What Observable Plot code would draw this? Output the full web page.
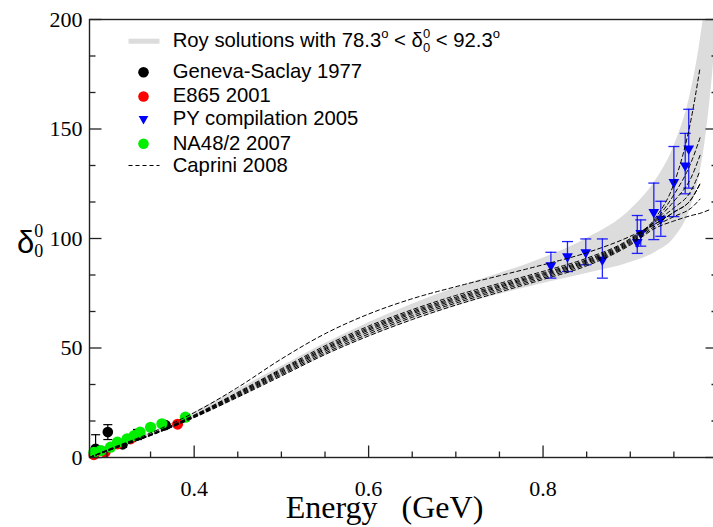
<!DOCTYPE html>
<html><head><meta charset="utf-8">
<script src="https://cdn.jsdelivr.net/npm/d3@7"></script>
<script src="https://cdn.jsdelivr.net/npm/@observablehq/plot@0.6"></script>
<style>
body{margin:0;overflow:hidden;background:#fff}
#chart{position:relative;width:713px;height:527px;overflow:hidden}
</style>
</head><body><div id="chart"></div>
<script>
// ---- axis ticks ----
const energyTicks = [0.4, 0.6, 0.8];
const energyMinor = [0.30, 0.35, 0.45, 0.50, 0.55, 0.65, 0.70, 0.75, 0.85, 0.90, 0.95];
const deltaTicks = [0, 50, 100, 150, 200];
const deltaMinor = [16.67, 33.33, 66.67, 83.33, 116.67, 133.33, 166.67, 183.33];

// ---- Roy solutions band ----
const bandE    = [0.28, 0.30, 0.35, 0.40, 0.45, 0.50, 0.55, 0.60, 0.65, 0.70, 0.75, 0.80, 0.85, 0.90, 0.93, 0.95, 0.97, 0.98, 0.985, 0.99, 0.995, 1.0];
const bandLow  = [0, 2.6, 9.6, 17.8, 27, 37, 46.5, 55, 62.5, 69, 74.5, 79.5, 84, 89, 94, 100, 115, 130, 142, 158, 178, 205];
const bandHigh = [0.5, 3.8, 11.4, 20.6, 31, 41.5, 52, 61.5, 70, 77.5, 84, 91, 100, 113, 127, 142, 168, 190, 205, 230, 260, 300];

// ---- Caprini 2008 curves ----
const capE = [0.28, 0.30, 0.35, 0.40, 0.45, 0.50, 0.55, 0.60, 0.65, 0.70, 0.75, 0.80, 0.85, 0.90, 0.93, 0.95, 0.97, 0.98, 0.99];
const cap1 = [0, 3.4, 11.2, 20.5, 32, 45, 56.5, 65.5, 72.5, 78, 83, 88, 93.5, 101, 107, 112, 118, 125, null];
const cap2 = [0, 3.2, 10.6, 19.4, 29.8, 40.5, 51, 60, 67.5, 74, 79.5, 85, 91, 100, 110, 125, 155, 178, null];
const cap3 = [0, 3.2, 10.5, 19.2, 29.4, 40, 50.3, 59.3, 66.8, 73.2, 78.8, 84.3, 90.3, 99.5, 109, 120, 135, 146, null];
const cap4 = [0, 3.1, 10.4, 19, 29, 39.5, 49.7, 58.7, 66.2, 72.6, 78.2, 83.8, 89.8, 99, 108.5, 117, 128, 138, null];
const cap5 = [0, 3.1, 10.3, 18.8, 28.7, 39, 49.2, 58.1, 65.6, 72, 77.7, 83.3, 89.3, 98.5, 108, 114, 122, 131, null];
const cap6 = [0, 3.0, 10.2, 18.6, 28.3, 38.4, 48.5, 57.3, 64.8, 71.3, 77, 82.7, 88.8, 98, 107, 112, 118, 125, null];
const cap7 = [0, 3.0, 10.1, 18.4, 27.9, 37.8, 47.7, 56.4, 64, 70.5, 76.3, 82, 88.2, 97.5, 106, 110, 114, 118, null];
const cap8 = [0, 2.9, 10, 18.2, 27.5, 37.2, 47, 55.5, 63, 69.6, 75.5, 81.3, 87.5, 97, 105, 108, 110.5, 111.5, 113];

// ---- PY compilation 2005 ----
const pyE  = [0.809, 0.828, 0.849, 0.868, 0.908, 0.912, 0.927, 0.935, 0.950, 0.963, 0.967];
const pyV  = [87.7, 91.8, 93.7, 90.3, 98.3, 102.5, 112, 109, 125.7, 133.3, 141];
const pyLo = [81.9, 84.9, 88, 81.9, 93.2, 96.5, 99.5, 101, 110, 120.4, 123];
const pyHi = [93.7, 98.6, 99.8, 99.8, 110.5, 108.5, 125.3, 117, 142, 148, 159];

// ---- Geneva-Saclay 1977 ----
const gsE  = [0.287, 0.301, 0.318, 0.335, 0.367];
const gsV  = [4, 11.6, 6, 10.5, 14.8];
const gsLo = [0, 8.2, 4.6, 8.2, 13.5];
const gsHi = [10.4, 15, 7.5, 12.8, 16];

// ---- E865 2001 ----
const e865E = [0.285, 0.298, 0.312, 0.327, 0.381];
const e865V = [1.3, 2.5, 6.2, 8.5, 15.2];

// ---- NA48/2 2007 ----
const naE = [0.285, 0.293, 0.304, 0.312, 0.323, 0.331, 0.338, 0.350, 0.363, 0.390];
const naV = [2.4, 3.2, 4.7, 7.0, 8.5, 10.0, 11.6, 13.8, 15.4, 18.4];

// ---- legend labels ----
const legendLabels = ["Geneva-Saclay 1977", "E865 2001", "PY compilation 2005", "NA48/2 2007", "Caprini 2008"];

// ---- tables ----
const band = bandE.map((e, i) => ({e, lo: bandLow[i], hi: bandHigh[i]}));
const capCurves = [cap1, cap2, cap3, cap4, cap5, cap6, cap7, cap8];
const capRows = capCurves.flatMap((arr, k) => capE.map((e, i) => ({e, v: arr[i], k})));
const py = pyE.map((e, i) => ({e, v: pyV[i], lo: pyLo[i], hi: pyHi[i]}));
const gs = gsE.map((e, i) => ({e, v: gsV[i], lo: gsLo[i], hi: gsHi[i]}));
const e865 = e865E.map((e, i) => ({e, v: e865V[i]}));
const na = naE.map((e, i) => ({e, v: naV[i]}));

const hline = {draw(ctx, size) { const r = Math.sqrt(size / Math.PI); ctx.moveTo(-r, 0); ctx.lineTo(r, 0); }};
const vline = {draw(ctx, size) { const r = Math.sqrt(size / Math.PI); ctx.moveTo(0, -r); ctx.lineTo(0, r); }};
const serif = "'Liberation Serif', 'Times New Roman', serif";
const sans = "'Liberation Sans', Arial, sans-serif";
const tickStyle = {stroke: "#222", strokeWidth: 1.3};

const plot = Plot.plot({
  width: 713, height: 527,
  marginLeft: 89, marginRight: -4, marginTop: 19, marginBottom: 70,
  x: {domain: [0.28, 1.0]},
  y: {domain: [0, 200]},
  style: {fontFamily: serif, background: "white", color: "black"},
  marks: [
    Plot.areaY(band, {x: "e", y1: "lo", y2: "hi", fill: "#dcdcdc", curve: "monotone-x", clip: true}),
    // PY
    Plot.ruleX(py, {x: "e", y1: "lo", y2: "hi", stroke: "blue", strokeWidth: 1.3, strokeOpacity: 0.85}),
    Plot.dot(py, {x: "e", y: "lo", symbol: hline, r: 5.5, stroke: "blue", strokeWidth: 1.3, strokeOpacity: 0.85}),
    Plot.dot(py, {x: "e", y: "hi", symbol: hline, r: 5.5, stroke: "blue", strokeWidth: 1.3, strokeOpacity: 0.85}),
    Plot.dot(py, {x: "e", y: "v", symbol: "triangle", rotate: 180, r: 4, fill: "blue", stroke: "none"}),
    // Geneva-Saclay
    Plot.ruleX(gs, {x: "e", y1: "lo", y2: "hi", stroke: "black", strokeWidth: 1.2}),
    Plot.dot(gs, {x: "e", y: "lo", symbol: hline, r: 4.5, stroke: "black", strokeWidth: 1.2}),
    Plot.dot(gs, {x: "e", y: "hi", symbol: hline, r: 4.5, stroke: "black", strokeWidth: 1.2}),
    Plot.dot(gs, {x: "e", y: "v", r: 5.3, fill: "black", stroke: "none"}),
    // E865
    Plot.dot(e865, {x: "e", y: "v", r: 5.5, fill: "#ff0000", stroke: "none"}),
    // NA48/2
    Plot.dot(na, {x: "e", y: "v", r: 5.6, fill: "#00ee00", stroke: "none"}),
    // Caprini
    Plot.line(capRows, {x: "e", y: "v", z: "k", stroke: "black", strokeWidth: 1, strokeDasharray: "4,3", curve: "monotone-x", clip: true}),
    // legend symbols (frame-anchored pixel offsets)
    Plot.dot([0], {frameAnchor: "top-left", dx: 54.5, dy: 21.7, symbol: hline, r: 15.5, stroke: "#dcdcdc", strokeWidth: 5}),
    Plot.dot([0], {frameAnchor: "top-left", dx: 54, dy: 52.7, r: 5.3, fill: "black", stroke: "none"}),
    Plot.dot([0], {frameAnchor: "top-left", dx: 54, dy: 77, r: 5.3, fill: "#ff0000", stroke: "none"}),
    Plot.dot([0], {frameAnchor: "top-left", dx: 54, dy: 99.3, symbol: "triangle", rotate: 180, r: 3.6, fill: "blue", stroke: "none"}),
    Plot.dot([0], {frameAnchor: "top-left", dx: 54, dy: 124.3, r: 5.3, fill: "#00ee00", stroke: "none"}),
    Plot.dot([0], {frameAnchor: "top-left", dx: 54.5, dy: 146, symbol: hline, r: 15.5, stroke: "black", strokeWidth: 1, strokeDasharray: "4,3"}),
    // frame and inward ticks
    Plot.frame({stroke: "#222", strokeWidth: 1.4}),
    Plot.dot(energyTicks, {x: d => d, frameAnchor: "bottom", symbol: vline, r: 6, dy: -6, ...tickStyle}),
    Plot.dot(energyMinor, {x: d => d, frameAnchor: "bottom", symbol: vline, r: 3, dy: -3, ...tickStyle}),
    Plot.dot(deltaTicks, {y: d => d, frameAnchor: "left", symbol: hline, r: 6, dx: 6, ...tickStyle}),
    Plot.dot(deltaMinor, {y: d => d, frameAnchor: "left", symbol: hline, r: 3, dx: 3, ...tickStyle}),
    Plot.dot(deltaTicks, {y: d => d, frameAnchor: "right", symbol: hline, r: 6, dx: -6, ...tickStyle}),
    Plot.dot(deltaMinor, {y: d => d, frameAnchor: "right", symbol: hline, r: 3, dx: -3, ...tickStyle}),
    // tick labels
    Plot.axisX(energyTicks, {anchor: "bottom", tickSize: 0, tickPadding: 23, fontSize: 22, label: null}),
    Plot.axisY(deltaTicks, {anchor: "left", tickSize: 0, tickPadding: 7, fontSize: 22, label: null}),
    Plot.text(["Energy\u00a0\u00a0\u00a0(GeV)"], {frameAnchor: "bottom", dx: -19, dy: 60, fontSize: 32, fontFamily: serif, fill: "black"})
  ]
});
document.getElementById("chart").appendChild(plot);

// ---- legend text and y-axis label with sub/superscripts ----
const svg = d3.select(plot);
const lg = svg.append("g").attr("font-family", sans).attr("font-size", 20.3).attr("fill", "black").attr("text-anchor", "start");
const roy = lg.append("text").attr("x", 172.7).attr("y", 47);
roy.append("tspan").text("Roy solutions with 78.3");
roy.append("tspan").attr("font-size", 13).attr("dy", -9).text("o");
roy.append("tspan").attr("dy", 9).text(" < \u03b4");
roy.append("tspan").attr("font-size", 13).attr("dy", 5).text("0");
roy.append("tspan").attr("font-size", 13).attr("dx", -7.2).attr("dy", -14).text("0");
roy.append("tspan").attr("dy", 9).text(" < 92.3");
roy.append("tspan").attr("font-size", 13).attr("dy", -9).text("o");
const legendBase = [78, 102, 125, 150, 172];
legendLabels.forEach((t, i) => lg.append("text").attr("x", 172.7).attr("y", legendBase[i]).text(t));

const yl = svg.append("text").attr("x", 17).attr("y", 253).attr("font-family", sans).attr("font-size", 31).attr("fill", "black").attr("text-anchor", "start");
yl.append("tspan").text("\u03b4");
yl.append("tspan").attr("font-family", serif).attr("font-size", 18).attr("dy", 4).text("0");
yl.append("tspan").attr("font-family", serif).attr("font-size", 18).attr("dx", -9).attr("dy", -20).text("0");
</script>
</body></html>
